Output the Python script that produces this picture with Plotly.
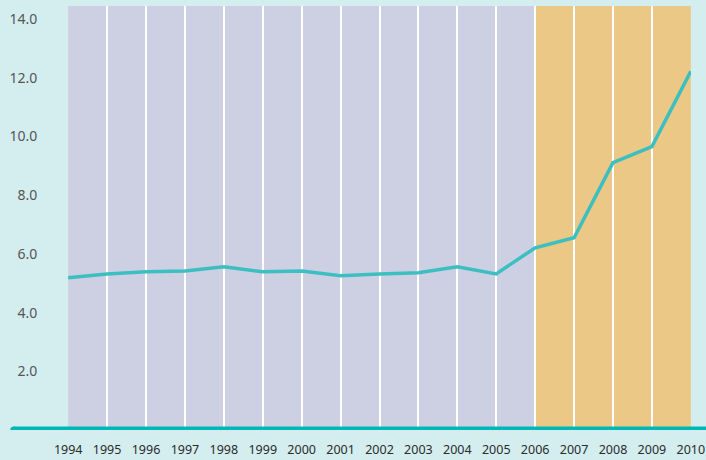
import plotly.graph_objects as go

years = list(range(1994, 2011))
values = [5.19, 5.32, 5.39, 5.42, 5.56, 5.39, 5.42, 5.26, 5.32, 5.36, 5.56, 5.32,
          6.21, 6.55, 9.11, 9.66, 12.22]
y_ticks = [2, 4, 6, 8, 10, 12, 14]
period_a = (1994, 2006)
period_b = (2006, 2010)

BG = "#d4eef0"
BASE = "#00b7b7"
fig = go.Figure()

fig.add_trace(go.Scatter(x=years, y=values, mode="lines",
                         line=dict(color="#3bbfc1", width=3.5),
                         hoverinfo="skip", showlegend=False, cliponaxis=False))

fig.add_shape(type="rect", xref="x", yref="y domain", x0=period_a[0], x1=period_a[1],
              y0=0, y1=1, fillcolor="#cdd0e2", line_width=0, layer="below")
fig.add_shape(type="rect", xref="x", yref="y domain", x0=period_b[0], x1=period_b[1],
              y0=0, y1=1, fillcolor="#ebc886", line_width=0, layer="below")
fig.add_shape(type="line", xref="paper", yref="y", x0=-0.087, x1=1.03, y0=0, y1=0,
              line=dict(color=BASE, width=7), layer="above")
fig.add_shape(type="circle", xref="paper", yref="y",
              xsizemode="pixel", ysizemode="pixel", xanchor=-0.087, yanchor=0,
              x0=-3.5, x1=3.5, y0=-3.5, y1=3.5,
              fillcolor=BASE, line_width=0, layer="above")

fig.update_layout(
    width=706, height=460,
    margin=dict(l=68, r=15, t=6, b=30, autoexpand=False),
    paper_bgcolor=BG, plot_bgcolor=BG,
    font=dict(family="Noto Sans", color="#333333"),
    xaxis=dict(range=[1993.995, 2010.005], tickmode="array", tickvals=years,
               ticktext=[str(y) for y in years], automargin=False,
               showgrid=True, gridcolor="white", gridwidth=2,
               zeroline=False, showline=False,
               ticks="outside", ticklen=8, tickcolor="rgba(0,0,0,0)",
               tickfont=dict(size=12.5, color="#2b2b2b")),
    yaxis=dict(range=[0, 14.45], tickmode="array", tickvals=y_ticks,
               ticktext=[f"{v:.1f}" for v in y_ticks], automargin=False,
               showgrid=False, zeroline=False, showline=False,
               ticks="outside", ticklen=27, tickcolor="rgba(0,0,0,0)",
               tickfont=dict(size=14, color="#555555")),
)

fig.write_html("out.html", config={"displayModeBar": False},
               post_script="document.body.style.margin='0';document.body.style.background='%s';" % BG)
